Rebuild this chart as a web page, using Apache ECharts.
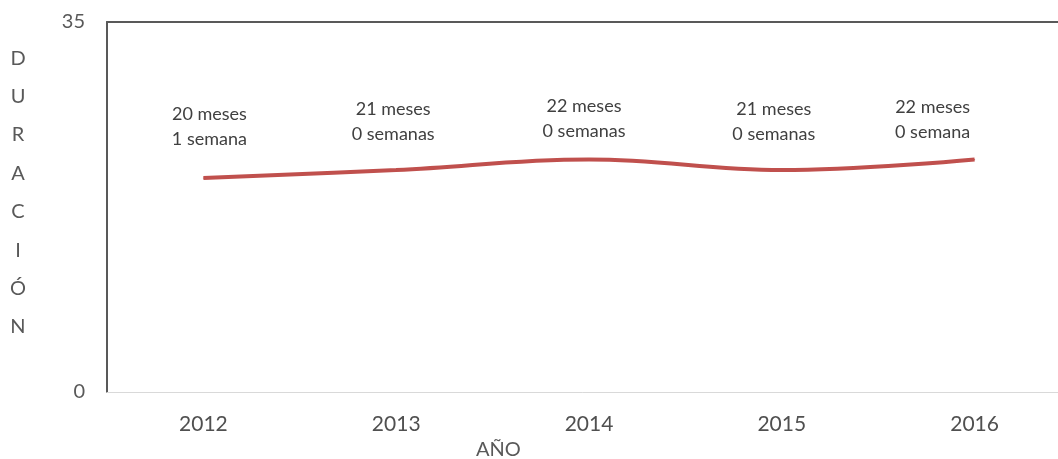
<!DOCTYPE html>
<html>
<head>
<meta charset="utf-8">
<script src="https://cdn.jsdelivr.net/npm/echarts@6/dist/echarts.min.js"></script>
<style>
	html, body { margin: 0; padding: 0; background: #fff; }
	#chart { width: 1058px; height: 459px; }
</style>
</head>
<body>
<div id="chart"></div>
<script>
	// datos
	var years = ['2012', '2013', '2014', '2015', '2016'];
	var duracion = [20.25, 21, 22, 21, 22];
	var etiquetas = [
		'20 meses\n1 semana',
		'21 meses\n0 semanas',
		'22 meses\n0 semanas',
		'21 meses\n0 semanas',
		'22 meses\n0 semana'
	];
	var yTicks = [0, 35];
	var yNombre = 'DURACIÓN';
	var xNombre = 'AÑO';

	// desplazamiento manual de cada etiqueta (como en el original)
	var ajusteEtiqueta = [[6, -4], [-3, -1], [-5, 7], [-8, -1], [-42, 8]];

	var font = 'Lato, "Open Sans", sans-serif';
	var chart = echarts.init(document.getElementById('chart'));

	chart.setOption({
		animation: false,
		title: {  // nombre del eje x
			text: xNombre,
			left: 476,
			top: 440,
			padding: 0,
			textStyle: { color: '#595959', fontSize: 20, fontWeight: 'normal', fontFamily: font }
		},
		graphic: [{  // nombre del eje y, letra por letra
			type: 'text',
			x: 18,
			y: 39,
			style: {
				text: yNombre.split('').join('\n'),
				fill: '#595959',
				font: '20px ' + font,
				lineHeight: 38.4,
				align: 'center'
			}
		}],
		grid: { left: 107, top: 22, width: 964, height: 370, outerBoundsMode: 'none' },
		xAxis: [{
			type: 'category',
			data: years,
			boundaryGap: true,
			axisLine: { lineStyle: { color: '#d9d9d9', width: 1 } },
			axisTick: { show: false },
			axisLabel: { color: '#505050', fontSize: 21, margin: 22, fontFamily: font }
		}, {
			// borde superior
			type: 'category',
			data: years,
			position: 'top',
			axisLine: { lineStyle: { color: '#595959', width: 2 } },
			axisTick: { show: false },
			axisLabel: { show: false }
		}],
		yAxis: {
			type: 'value',
			min: yTicks[0],
			max: yTicks[1],
			interval: yTicks[1] - yTicks[0],
			axisLine: { show: true, lineStyle: { color: '#595959', width: 2 } },
			axisTick: { show: false },
			splitLine: { show: false },
			axisLabel: { color: '#595959', fontSize: 20, margin: 22, fontFamily: font }
		},
		series: [{
			type: 'line',
			data: duracion.map(function (v, i) {
				return { value: v, label: { offset: ajusteEtiqueta[i] } };
			}),
			smooth: 0.4,
			symbol: 'circle',
			symbolSize: 1,
			lineStyle: { color: '#c0504d', width: 4 },
			itemStyle: { color: '#c0504d' },
			label: {
				show: true,
				position: 'top',
				distance: 22,
				color: '#404040',
				fontSize: 18,
				lineHeight: 25,
				fontFamily: font,
				formatter: function (p) { return etiquetas[p.dataIndex]; }
			}
		}]
	});
</script>
</body>
</html>
